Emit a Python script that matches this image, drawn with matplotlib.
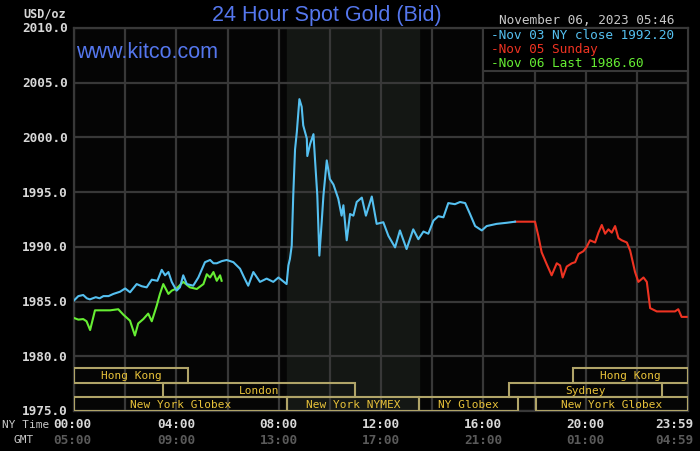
import matplotlib.pyplot as plt
from matplotlib.patches import Rectangle
import matplotlib.transforms as mtransforms

# Nov 03 (blue) - hours NY time, price
nov03_h = [0, .17, .36, .5, .62, .85, 1.0, 1.15, 1.35, 1.54, 1.8, 2.0, 2.19, 2.45, 2.65,
           2.84, 3.04, 3.26, 3.43, 3.56, 3.69, 3.82, 4.01, 4.14, 4.27, 4.41, 4.66, 4.86,
           5.12, 5.32, 5.45, 5.58, 5.78, 5.97, 6.23, 6.49, 6.65, 6.81, 7.01, 7.27, 7.53,
           7.79, 7.99, 8.15, 8.31, 8.38, 8.44, 8.51, 8.57, 8.64, 8.71, 8.81, 8.90, 8.96,
           9.10, 9.12, 9.23, 9.36, 9.42, 9.51, 9.59, 9.68, 9.75, 9.88, 10.0, 10.14, 10.33,
           10.46, 10.53, 10.66, 10.79, 10.92, 11.05, 11.25, 11.41, 11.64, 11.83, 12.09,
           12.29, 12.55, 12.74, 13.0, 13.26, 13.46, 13.66, 13.85, 14.05, 14.24, 14.44,
           14.63, 14.89, 15.09, 15.29, 15.48, 15.68, 15.94, 16.13, 16.52, 16.91, 17.24]
nov03_v = [1985.1, 1985.5, 1985.6, 1985.3, 1985.2, 1985.4, 1985.3, 1985.5, 1985.5, 1985.7,
           1985.9, 1986.2, 1985.85, 1986.6, 1986.4, 1986.3, 1987.0, 1986.9, 1987.9, 1987.4,
           1987.7, 1986.8, 1986.0, 1986.3, 1987.4, 1986.6, 1986.45, 1987.2, 1988.6, 1988.8,
           1988.5, 1988.5, 1988.7, 1988.8, 1988.6, 1988.0, 1987.2, 1986.45, 1987.7, 1986.8,
           1987.1, 1986.8, 1987.2, 1986.9, 1986.6, 1988.3, 1988.9, 1990.1, 1994.7, 1998.9,
           2000.5, 2003.5, 2002.8, 2001.1, 1999.9, 1998.3, 1999.4, 2000.3, 1998.0, 1994.7,
           1989.2, 1992.2, 1994.7, 1997.9, 1996.2, 1995.7, 1994.4, 1992.85, 1993.8, 1990.6,
           1993.0, 1992.85, 1994.1, 1994.5, 1992.85, 1994.6, 1992.1, 1992.25, 1991.0,
           1989.95, 1991.5, 1989.8, 1991.6, 1990.7, 1991.4, 1991.2, 1992.4, 1992.8, 1992.7,
           1994.0, 1993.9, 1994.1, 1994.0, 1993.0, 1991.9, 1991.5, 1991.9, 1992.1, 1992.2,
           1992.3]

# Nov 05 Sunday (red)
nov05_h = [17.24, 18.02, 18.15, 18.28, 18.48, 18.67, 18.87, 19.0, 19.1, 19.26, 19.46, 19.59,
           19.72, 19.91, 20.04, 20.17, 20.37, 20.50, 20.63, 20.76, 20.89, 21.02, 21.15,
           21.28, 21.41, 21.61, 21.74, 21.93, 22.06, 22.26, 22.39, 22.52, 22.78, 23.49,
           23.62, 23.75, 23.95]
nov05_v = [1992.3, 1992.3, 1991.0, 1989.5, 1988.4, 1987.4, 1988.5, 1988.3, 1987.2, 1988.2,
           1988.5, 1988.6, 1989.35, 1989.6, 1990.0, 1990.6, 1990.4, 1991.3, 1992.0, 1991.2,
           1991.6, 1991.3, 1991.9, 1990.8, 1990.6, 1990.4, 1989.65, 1987.7, 1986.8, 1987.2,
           1986.8, 1984.4, 1984.1, 1984.1, 1984.3, 1983.6, 1983.6]

# Nov 06 (green)
nov06_h = [0, .17, .36, .49, .63, .82, 1.08, 1.41, 1.73, 1.93, 2.19, 2.38, 2.51, 2.71, 2.90,
           3.04, 3.23, 3.36, 3.49, 3.69, 3.82, 4.01, 4.27, 4.53, 4.80, 5.06, 5.19, 5.32,
           5.45, 5.58, 5.71, 5.77]
nov06_v = [1983.5, 1983.35, 1983.4, 1983.2, 1982.4, 1984.2, 1984.2, 1984.2, 1984.3, 1983.8,
           1983.25, 1981.9, 1983.0, 1983.4, 1983.9, 1983.2, 1984.6, 1985.7, 1986.6, 1985.7,
           1986.0, 1986.2, 1986.8, 1986.3, 1986.15, 1986.6, 1987.5, 1987.2, 1987.7, 1986.9,
           1987.4, 1986.9]

# trading sessions: name, start hour, end hour, row (0 = top)
sessions = [("Hong Kong", 0, 4.47, 0), ("Hong Kong", 19.5, 24, 0),
            ("London", 3.48, 10.98, 1), ("Sydney", 17.0, 22.97, 1),
            ("New York Globex", 0, 8.33, 2), ("New York NYMEX", 8.33, 13.5, 2),
            ("NY Globex", 13.5, 17.35, 2), ("New York Globex", 18.05, 24, 2)]

ny_ticks = [0, 4, 8, 12, 16, 20, 24]
ny_labels = ["00:00", "04:00", "08:00", "12:00", "16:00", "20:00", "23:59"]
gmt_labels = ["05:00", "09:00", "13:00", "17:00", "21:00", "01:00", "04:59"]
y_ticks = [1975, 1980, 1985, 1990, 1995, 2000, 2005, 2010]

legend_items = [("-Nov 03 NY close 1992.20", "#55c0f0"),
                ("-Nov 05 Sunday", "#ee3322"),
                ("-Nov 06 Last 1986.60", "#66ee33")]

mono = "DejaVu Sans Mono"
grid_c = "#383838"

fig = plt.figure(figsize=(7, 4.52), dpi=100, facecolor="black")
ax = fig.add_axes([74 / 700, 1 - 412 / 452, 614 / 700, 383 / 452])
ax.set_facecolor("#050505")
ax.set_xlim(0, 24)
ax.set_ylim(1975, 2010)

ax.axvspan(8.33, 13.5, color="#141714", zorder=0)
for h in range(0, 25, 2):
    ax.axvline(h, color=grid_c, lw=1.6, zorder=1)
for y in y_ticks:
    ax.axhline(y, color=grid_c, lw=1.6, zorder=1)
for s in ax.spines.values():
    s.set_color(grid_c)
    s.set_linewidth(1.6)
ax.set_xticks([])
ax.set_yticks([])

ax.plot(nov06_h, nov06_v, color="#66ee33", lw=1.5, zorder=3)
ax.plot(nov05_h, nov05_v, color="#ee3322", lw=1.5, zorder=3)
ax.plot(nov03_h, nov03_v, color="#55c0f0", lw=1.5, zorder=4)

# session boxes
row_h = 1.3
for name, a, b, row in sessions:
    y0 = 1975 + (2 - row) * row_h
    ax.add_patch(Rectangle((a, y0), b - a, row_h, fill=False, edgecolor="#b0a468",
                           lw=1.5, zorder=5))
    ax.text((a + b) / 2, y0 + row_h / 2, name, ha="center", va="center",
            color="#e8c23a", fontsize=8, family=mono, zorder=6)

# legend box
ax.add_patch(Rectangle((16.0, 2006.1), 8.0, 3.9, facecolor="black", edgecolor=grid_c,
                       lw=1.5, zorder=6))
for i, (txt, c) in enumerate(legend_items):
    ax.text(16.3, 2009.4 - i * 1.28, txt, color=c, fontsize=9.2, family=mono,
            va="center", ha="left", zorder=7)

# y tick labels
trans_y = mtransforms.offset_copy(ax.transData, fig=fig, x=-6 / 100 * 72, y=0, units="points")
for y in y_ticks:
    ax.text(0, y, f"{y:.1f}", transform=trans_y, ha="right", va="center",
            color="#d8d8d8", fontsize=9.2, family=mono, fontweight="bold")

# x tick labels (NY time and GMT)
for h, ny, g in zip(ny_ticks, ny_labels, gmt_labels):
    xh = h if h < 24 else 23.45
    xh = xh - 0.08 if h == 0 else xh
    ax.text(xh, 1975, ny, transform=mtransforms.offset_copy(ax.transData, fig=fig, y=-9, units="points"),
            ha="center", va="center", color="#d8d8d8", fontsize=9.2, family=mono,
            fontweight="bold")
    ax.text(xh, 1975, g, transform=mtransforms.offset_copy(ax.transData, fig=fig, y=-20.5, units="points"),
            ha="center", va="center", color="#5a5a5a", fontsize=9.2, family=mono,
            fontweight="bold")

fig.text(2 / 700, 1 - 425 / 452, "NY Time", color="#c8c8c8", fontsize=8, family=mono,
         ha="left", va="center")
fig.text(13 / 700, 1 - 440 / 452, "GMT", color="#c8c8c8", fontsize=8, family=mono,
         ha="left", va="center")
fig.text(23 / 700, 1 - 14 / 452, "USD/oz", color="#d8d8d8", fontsize=8.5, family=mono,
         ha="left", va="center", fontweight="bold")

fig.text(327 / 700, 1 - 16 / 452, "24 Hour Spot Gold (Bid)", color="#5577ee", fontsize=15.5,
         family="Liberation Sans", ha="center", va="center")
fig.text(76 / 700, 1 - 52 / 452, "www.kitco.com", color="#5577ee", fontsize=15.5,
         family="Liberation Sans", ha="left", va="center")
fig.text(587 / 700, 1 - 20 / 452, "November 06, 2023 05:46", color="#c8c8c8", fontsize=9.2,
         family=mono, ha="center", va="center")

fig.savefig("out.png", dpi=100, facecolor="black")
